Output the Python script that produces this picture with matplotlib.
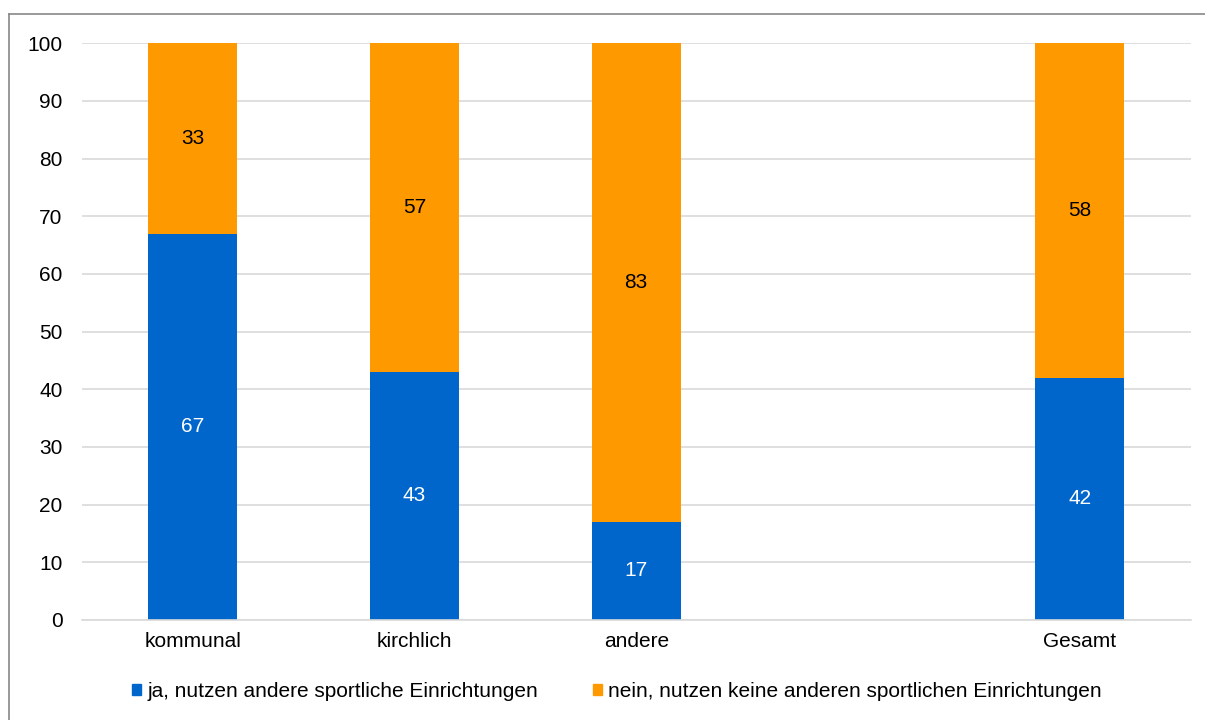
import numpy as np
import matplotlib.pyplot as plt
from matplotlib.lines import Line2D
from matplotlib.patches import Patch

plt.rcParams['font.family'] = ['Liberation Sans', 'DejaVu Sans']

# Daten
categories = ["kommunal", "kirchlich", "andere", "", "Gesamt"]
ja = [67, 43, 17, np.nan, 42]
nein = [33, 57, 83, np.nan, 58]
series_names = ["ja, nutzen andere sportliche Einrichtungen",
                "nein, nutzen keine anderen sportlichen Einrichtungen"]

BLUE = "#0066CC"
ORANGE = "#FF9900"
FS = 15

fig = plt.figure(figsize=(12.05, 7.2), dpi=100)
ax = fig.add_axes([0.068, 0.139, 0.92, 0.801])

x = np.arange(len(categories))
ja_arr = np.array(ja, dtype=float)
nein_arr = np.array(nein, dtype=float)

ax.bar(x, ja_arr, width=0.4, color=BLUE, zorder=2)
ax.bar(x, nein_arr, width=0.4, bottom=ja_arr, color=ORANGE, zorder=2)

for i in range(len(categories)):
    if np.isnan(ja_arr[i]):
        continue
    ax.text(x[i], ja_arr[i] / 2, "%d" % ja_arr[i], ha="center", va="center",
            color="white", fontsize=FS)
    ax.text(x[i], ja_arr[i] + nein_arr[i] / 2, "%d" % nein_arr[i], ha="center",
            va="center", color="black", fontsize=FS)

ax.set_xlim(-0.5, len(categories) - 0.5)
ax.set_ylim(0, 100)
ax.set_yticks(range(0, 101, 10))
ax.set_xticks(x)
ax.set_xticklabels(categories)
ax.tick_params(axis="both", length=0, labelsize=FS, colors="black")
ax.tick_params(axis="x", pad=9)
ax.tick_params(axis="y", pad=14)

ax.grid(axis="y", color="#D9D9D9", linewidth=1.2, zorder=0)
for s in ["top", "right", "left"]:
    ax.spines[s].set_visible(False)
ax.spines["bottom"].set_color("#D9D9D9")
ax.spines["bottom"].set_linewidth(1.2)

handles = [Patch(color=BLUE), Patch(color=ORANGE)]
fig.legend(handles, series_names, loc="center", bbox_to_anchor=(0.512, 0.04),
           ncol=2, frameon=False, fontsize=FS, handlelength=0.45,
           handleheight=0.45, handletextpad=0.3, columnspacing=2.6)

# Rahmen (nur oben und links sichtbar)
fig.add_artist(Line2D([0.0078, 0.0078], [0, 0.981], color="#888888",
                      linewidth=1.2, transform=fig.transFigure))
fig.add_artist(Line2D([0.0078, 1.0], [0.981, 0.981], color="#888888",
                      linewidth=1.2, transform=fig.transFigure))

fig.savefig("out.png", dpi=100)
